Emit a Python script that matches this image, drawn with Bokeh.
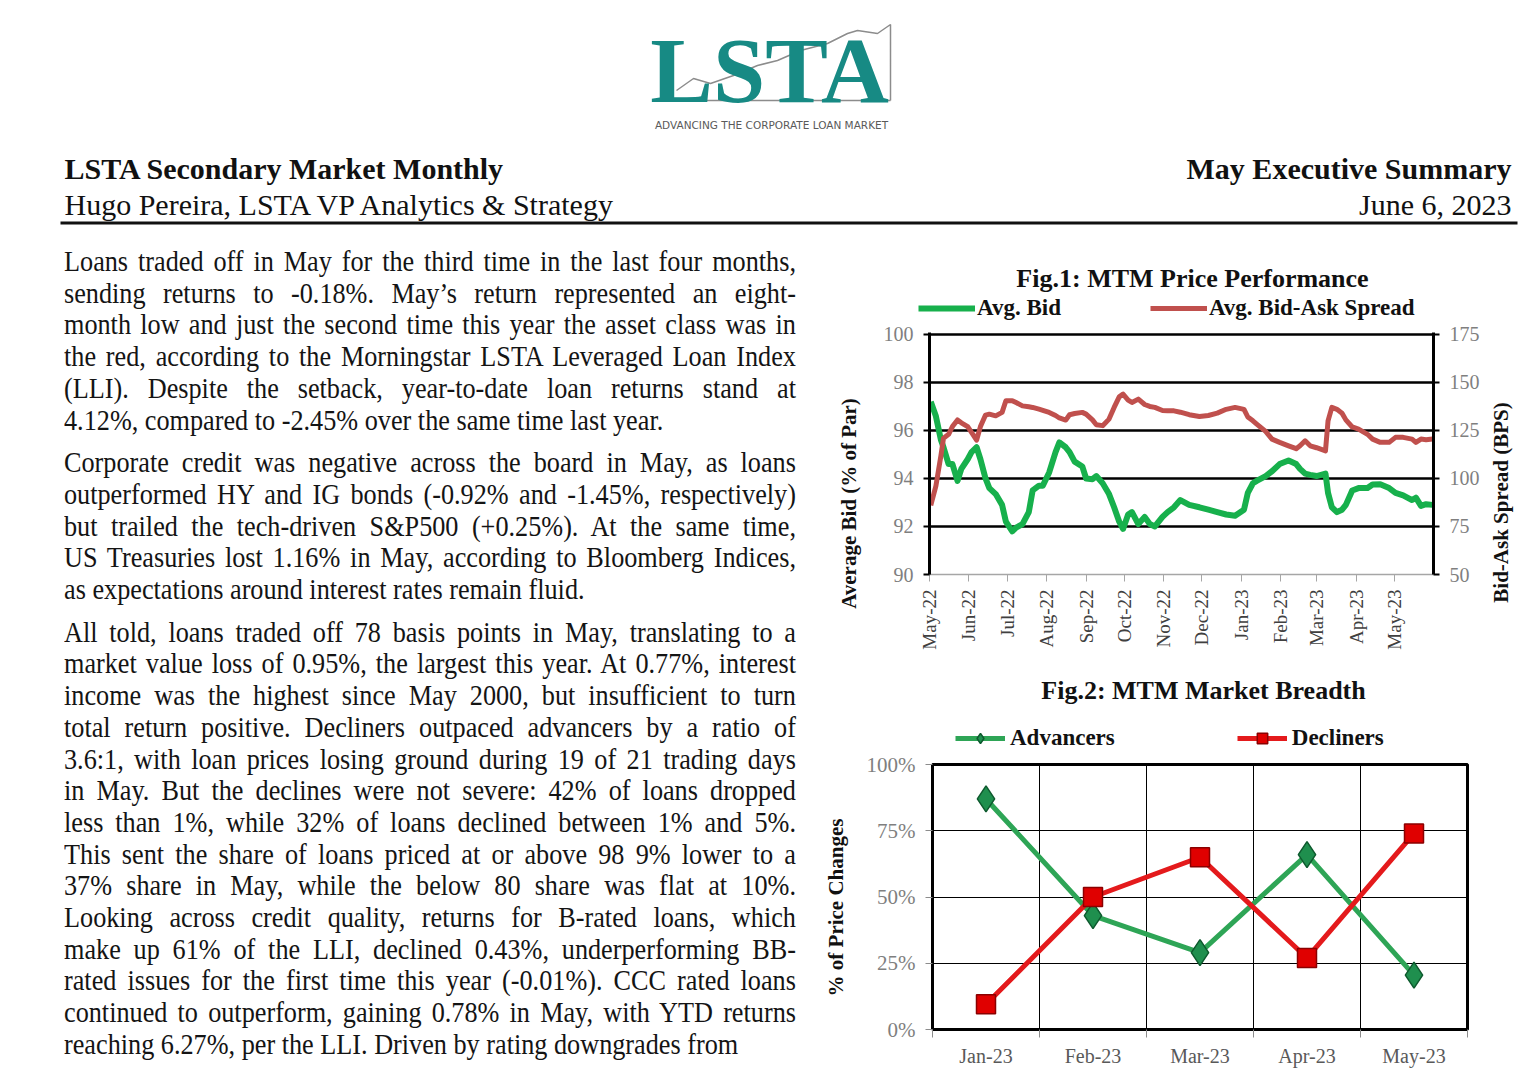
import math
from datetime import datetime
import pandas as pd
from bokeh.plotting import figure
from bokeh.models import (Range1d, LinearAxis, FixedTicker, Legend, LegendItem, Div,
                          DatetimeTickFormatter, MonthsTicker, PrintfTickFormatter, ColumnDataSource)
from bokeh.layouts import column, row
from bokeh.embed import file_html
from bokeh.resources import INLINE
from bokeh.core.properties import value
from html import escape

# ---------------- data ----------------
bid_dates = [
    "2022-05-02", "2022-05-06", "2022-05-10", "2022-05-12", "2022-05-16", "2022-05-19", "2022-05-23",
    "2022-05-26", "2022-05-31", "2022-06-03", "2022-06-07", "2022-06-10", "2022-06-14", "2022-06-17",
    "2022-06-22", "2022-06-27", "2022-06-30", "2022-07-05", "2022-07-08", "2022-07-13", "2022-07-18",
    "2022-07-21", "2022-07-26", "2022-07-29", "2022-08-03", "2022-08-08", "2022-08-11", "2022-08-16",
    "2022-08-19", "2022-08-23", "2022-08-29", "2022-09-01", "2022-09-06", "2022-09-09", "2022-09-14",
    "2022-09-19", "2022-09-23", "2022-09-27", "2022-09-30", "2022-10-04", "2022-10-07", "2022-10-12",
    "2022-10-17", "2022-10-21", "2022-10-25", "2022-10-31", "2022-11-04", "2022-11-09", "2022-11-14",
    "2022-11-21", "2022-11-29", "2022-12-06", "2022-12-13", "2022-12-20", "2022-12-27", "2023-01-03",
    "2023-01-06", "2023-01-10", "2023-01-13", "2023-01-20", "2023-01-25", "2023-01-31", "2023-02-07",
    "2023-02-13", "2023-02-16", "2023-02-20", "2023-02-24", "2023-03-01", "2023-03-08", "2023-03-10",
    "2023-03-13", "2023-03-17", "2023-03-21", "2023-03-24", "2023-03-29", "2023-04-03", "2023-04-10",
    "2023-04-14", "2023-04-20", "2023-04-27", "2023-05-02", "2023-05-08", "2023-05-15", "2023-05-18",
    "2023-05-22", "2023-05-26", "2023-05-31",
]
avg_bid = [
    97.2, 96.6, 95.6, 95.3, 94.6, 94.6, 93.9,
    94.4, 94.8, 95.1, 95.3, 94.8, 94.0, 93.6,
    93.35, 92.9, 92.2, 91.8, 91.95, 92.1, 92.6,
    93.5, 93.7, 93.7, 94.25, 95.1, 95.5, 95.3,
    95.1, 94.7, 94.5, 94.0, 93.97, 94.1, 93.8,
    93.35, 92.8, 92.2, 91.9, 92.5, 92.6, 92.1,
    92.4, 92.1, 92.0, 92.4, 92.6, 92.8, 93.1,
    92.9, 92.8, 92.7, 92.6, 92.5, 92.45, 92.7,
    93.4, 93.8, 93.9, 94.1, 94.3, 94.6, 94.75,
    94.6, 94.4, 94.2, 94.15, 94.1, 94.2, 93.4,
    92.8, 92.6, 92.7, 92.9, 93.5, 93.6, 93.6,
    93.75, 93.76, 93.6, 93.4, 93.3, 93.1, 93.2,
    92.86, 92.93, 92.9,
]
bid_ask_spread = [
    86, 96, 112, 121, 123, 127, 130.5,
    129, 127, 124, 120, 127, 133, 133.5,
    132.6, 134.4, 140.5, 140.5, 139.5, 137.8, 137.3,
    137, 136.1, 135.5, 134.4, 132.8, 131.5, 130.4,
    133.2, 133.8, 134.4, 133.5, 130.5, 128, 127.5,
    130.9, 137, 142.5, 143.9, 140.8, 139.6, 141.3,
    138.5, 137.5, 137, 135.4, 135.2, 135.2, 134.5,
    133.2, 132.3, 132.8, 134, 136, 137, 136,
    132, 130, 128.3, 124.5, 120.5, 118.8, 117,
    115.5, 117, 119.6, 117, 116, 114.4, 130,
    137, 136, 134, 130.5, 126.8, 125.7, 123,
    120.5, 118.8, 118.8, 121.4, 121.4, 120.5, 118.8,
    120.5, 120.2, 120.5,
]
bid_ticks = [90, 92, 94, 96, 98, 100]
spread_ticks = [50, 75, 100, 125, 150, 175]

breadth_months = ["Jan-23", "Feb-23", "Mar-23", "Apr-23", "May-23"]
advancers = [87, 43, 29, 66, 20.5]
decliners = [9.5, 50, 65, 27, 74]
breadth_ticks = [0, 25, 50, 75, 100]

logo_line_x = [676, 693, 710, 733, 757, 777, 800, 827, 847, 857, 877, 890, 890]
logo_line_y = [90, 78, 83, 75, 65, 60, 50, 43, 33, 30, 33, 24, 100]

para1 = [
    "Loans traded off in May for the third time in the last four months,",
    "sending returns to -0.18%. May\u2019s return represented an eight-",
    "month low and just the second time this year the asset class was in",
    "the red, according to the Morningstar LSTA Leveraged Loan Index",
    "(LLI). Despite the setback, year-to-date loan returns stand at",
    "4.12%, compared to -2.45% over the same time last year.",
]
para2 = [
    "Corporate credit was negative across the board in May, as loans",
    "outperformed HY and IG bonds (-0.92% and -1.45%, respectively)",
    "but trailed the tech-driven S&P500 (+0.25%). At the same time,",
    "US Treasuries lost 1.16% in May, according to Bloomberg Indices,",
    "as expectations around interest rates remain fluid.",
]
para3 = [
    "All told, loans traded off 78 basis points in May, translating to a",
    "market value loss of 0.95%, the largest this year. At 0.77%, interest",
    "income was the highest since May 2000, but insufficient to turn",
    "total return positive. Decliners outpaced advancers by a ratio of",
    "3.6:1, with loan prices losing ground during 19 of 21 trading days",
    "in May. But the declines were not severe: 42% of loans dropped",
    "less than 1%, while 32% of loans declined between 1% and 5%.",
    "This sent the share of loans priced at or above 98 9% lower to a",
    "37% share in May, while the below 80 share was flat at 10%.",
    "Looking across credit quality, returns for B-rated loans, which",
    "make up 61% of the LLI, declined 0.43%, underperforming BB-",
    "rated issues for the first time this year (-0.01%). CCC rated loans",
    "continued to outperform, gaining 0.78% in May, with YTD returns",
    "reaching 6.27%, per the LLI. Driven by rating downgrades from",
]

SERIF = "Liberation Serif"
NB = "\u00a0"

# styles
BID_STYLE = dict(line_color="#17b04c", line_width=6, line_join="round")
SPREAD_STYLE = dict(line_color="#c0504d", line_width=5, line_join="round")
ADV_LINE = dict(line_color="#2ea556", line_width=5)
ADV_MARK = dict(marker="diamond", size=26, fill_color="#1f8f4e", line_color="#0e5a2e", line_width=1.5)
DEC_LINE = dict(line_color="#e41a1c", line_width=5)
DEC_MARK = dict(marker="square", size=19, fill_color="#e00000", line_color="#8b0000", line_width=1.5)
AXIS_TITLE = dict(text_font=value(SERIF), text_font_style="bold", text_font_size="21px",
                  text_color="#111111", text_align="center", text_baseline="middle")


def blank_fig(width, height, x0, y0, flip=True):
    """Figure whose data coordinates are page pixels (y downward if flip)."""
    yr = Range1d(y0 + height, y0) if flip else Range1d(-(y0 + height), -y0)
    f = figure(width=width, height=height, x_range=Range1d(x0, x0 + width), y_range=yr,
               x_axis_type=None, y_axis_type=None, output_backend="svg", toolbar_location=None,
               min_border=0, outline_line_color=None)
    f.grid.visible = False
    f.frame_align = False
    return f


# ---------------- header ----------------
hdr = blank_fig(1536, 230, 0, 0)
hdr.line(logo_line_x, logo_line_y, line_color="#8c8c8c", line_width=1.5)
hdr.segment(x0=[675], y0=[100], x1=[890], y1=[100], line_color="#8c8c8c", line_width=1.5)
hdr.text(x=[769], y=[69], text=["LSTA"], text_font=value(SERIF), text_font_style="bold",
         text_font_size="94px", text_color="#178a84", text_align="center", text_baseline="middle")
hdr.text(x=[771], y=[124], text=["ADVANCING THE CORPORATE LOAN MARKET"], text_font=value("DejaVu Sans"),
         text_font_size="10.5px", text_color="#5a5a5a", text_align="center", text_baseline="middle")
hdr.text(x=[64], y=[168], text=["LSTA Secondary Market Monthly"], text_font=value(SERIF),
         text_font_style="bold", text_font_size="30px", text_color="#111111", text_baseline="middle")
hdr.text(x=[64], y=[204], text=["Hugo Pereira, LSTA VP Analytics & Strategy"], text_font=value(SERIF),
         text_font_size="30px", text_color="#111111", text_baseline="middle")
hdr.text(x=[1511], y=[168], text=["May Executive Summary"], text_font=value(SERIF),
         text_font_style="bold", text_font_size="30px", text_color="#111111", text_align="right",
         text_baseline="middle")
hdr.text(x=[1511], y=[204], text=["June 6, 2023"], text_font=value(SERIF),
         text_font_size="30px", text_color="#111111", text_align="right", text_baseline="middle")
hdr.segment(x0=[60], y0=[222.5], x1=[1517], y1=[222.5], line_color="#111111", line_width=3)

# ---------------- body text ----------------
def para_html(lines, gap):
    out = []
    for i, ln in enumerate(lines):
        last = "left" if i == len(lines) - 1 else "justify"
        out.append(f'<div style="text-align:justify;text-align-last:{last};">{escape(ln)}</div>')
    return f'<div style="margin-bottom:{gap}px">' + "".join(out) + "</div>"

body_html = (
    '<div style="width:820px;height:849px;overflow:hidden;position:relative;">'
    '<div style="position:absolute;left:64px;top:16px;width:795.6px;transform:scaleX(0.92);'
    'transform-origin:0 0;font-family:\'Liberation Serif\';font-size:28.5px;line-height:31.7px;color:#141414;">'
    + para_html(para1, 11) + para_html(para2, 11) + para_html(para3, 0) +
    "</div></div>"
)
body = Div(text=body_html, width=820, height=849, margin=0, styles={"overflow": "hidden"})

src1 = ColumnDataSource(dict(date=pd.to_datetime(bid_dates), bid=avg_bid, spread=bid_ask_spread))
centers = [i + 0.5 for i in range(len(breadth_months))]
bounds = list(range(len(breadth_months) + 1))
src2 = ColumnDataSource(dict(x=centers, adv=advancers, dec=decliners))

# ---------------- Fig.1 title + legend ----------------
h1 = blank_fig(716, 91, 820, 230)
h1.text(x=[1192], y=[278], text=["Fig.1: MTM Price Performance"], text_font=value(SERIF),
        text_font_style="bold", text_font_size="26px", text_color="#111111",
        text_align="center", text_baseline="middle")
# legend proxies (same series, lie outside this panel's visible range)
lg_bid = h1.line("date", "bid", source=src1, **BID_STYLE)
lg_spr = h1.line("date", "spread", source=src1, **SPREAD_STYLE)
h1.add_layout(Legend(items=[LegendItem(label="Avg. Bid", renderers=[lg_bid]),
                            LegendItem(label="Avg. Bid-Ask Spread", renderers=[lg_spr])],
                     orientation="horizontal", location=(98, 0), spacing=89, glyph_width=57,
                     glyph_height=24, label_standoff=2, padding=0, margin=0, border_line_color=None,
                     background_fill_alpha=0, label_text_font=SERIF, label_text_font_style="bold",
                     label_text_font_size="23px", label_text_color="#111111"), "center")

# ---------------- Fig.1 chart ----------------
p1 = figure(width=612, height=344, x_axis_type="datetime",
            x_range=Range1d(datetime(2022, 5, 1), datetime(2023, 5, 31, 20)),
            y_range=Range1d(bid_ticks[0], bid_ticks[-1] + 0.08),
            output_backend="svg", toolbar_location=None,
            min_border_left=59, min_border_right=48, min_border_top=11, min_border_bottom=91)
p1.frame_align = False
p1.outline_line_color = None
p1.xgrid.visible = False
p1.ygrid.ticker = FixedTicker(ticks=bid_ticks[1:])
p1.ygrid.grid_line_color = "black"
p1.ygrid.grid_line_width = 2.5
p1.extra_y_ranges = {"spread": Range1d(spread_ticks[0], spread_ticks[-1] + 1.0)}

p1.line("date", "bid", source=src1, **BID_STYLE)
p1.line("date", "spread", source=src1, y_range_name="spread", **SPREAD_STYLE)

yax = p1.yaxis[0]
yax.ticker = FixedTicker(ticks=bid_ticks)
rax = LinearAxis(y_range_name="spread", ticker=FixedTicker(ticks=spread_ticks))
p1.add_layout(rax, "right")
for ax in (yax, rax):
    ax.axis_line_color = "black"
    ax.axis_line_width = 3
    ax.major_tick_line_color = "black"
    ax.major_tick_line_width = 2
    ax.major_tick_out = 6
    ax.major_tick_in = 0
    ax.minor_tick_line_color = None
    ax.major_label_text_font = SERIF
    ax.major_label_text_font_size = "20px"
    ax.major_label_text_color = "#7f7f7f"
    ax.major_label_standoff = 10

xax = p1.xaxis[0]
xax.ticker = MonthsTicker(months=list(range(12)))
xax.formatter = DatetimeTickFormatter(months="%b-%y", days="%b-%y")
xax.major_label_orientation = math.pi / 2
xax.axis_line_color = "#a6a6a6"
xax.axis_line_width = 1.5
xax.major_tick_line_color = "#a6a6a6"
xax.major_tick_out = 7
xax.major_tick_in = 0
xax.minor_tick_line_color = None
xax.major_label_text_font = SERIF
xax.major_label_text_font_size = "19px"
xax.major_label_text_color = "#404040"
xax.major_label_standoff = 8

# axis titles of Fig.1 (bottom-to-top, as in the original)
llab = blank_fig(50, 344, 820, 321, flip=False)
llab.text(x=[848], y=[-503], text=["Average Bid (% of Par)"], angle=math.pi / 2, **AXIS_TITLE)
rlab = blank_fig(54, 344, 1482, 321, flip=False)
rlab.text(x=[1500], y=[-502], text=["Bid-Ask Spread (BPS)"], angle=math.pi / 2, **AXIS_TITLE)

# ---------------- Fig.2 title + legend ----------------
h2 = blank_fig(716, 86, 820, 665)
h2.text(x=[1203], y=[690], text=["Fig.2: MTM Market Breadth"], text_font=value(SERIF),
        text_font_style="bold", text_font_size="26px", text_color="#111111",
        text_align="center", text_baseline="middle")
lg_al = h2.line("x", "adv", source=src2, **ADV_LINE)
lg_am = h2.scatter("x", "adv", source=src2, **ADV_MARK)
lg_dl = h2.line("x", "dec", source=src2, **DEC_LINE)
lg_dm = h2.scatter("x", "dec", source=src2, **DEC_MARK)
h2.add_layout(Legend(items=[LegendItem(label="Advancers", renderers=[lg_al, lg_am]),
                            LegendItem(label="Decliners", renderers=[lg_dl, lg_dm])],
                     orientation="horizontal", location=(135, 0), spacing=122, glyph_width=50,
                     glyph_height=26, label_standoff=5, padding=0, margin=0, border_line_color=None,
                     background_fill_alpha=0, label_text_font=SERIF, label_text_font_style="bold",
                     label_text_font_size="23px", label_text_color="#111111"), "center")

# ---------------- Fig.2 chart ----------------
p2 = figure(width=716, height=328, x_range=Range1d(bounds[0], bounds[-1]),
            y_range=Range1d(breadth_ticks[0], breadth_ticks[-1]),
            output_backend="svg", toolbar_location=None,
            min_border_left=109, min_border_right=69, min_border_top=13, min_border_bottom=50)
p2.frame_align = False
p2.outline_line_color = "black"
p2.outline_line_width = 3
p2.ygrid.ticker = FixedTicker(ticks=breadth_ticks[1:-1])
p2.xgrid.ticker = FixedTicker(ticks=bounds[1:-1])
for gr in (p2.xgrid, p2.ygrid):
    gr.grid_line_color = "black"
    gr.grid_line_width = 1

p2.line("x", "adv", source=src2, **ADV_LINE)
p2.scatter("x", "adv", source=src2, **ADV_MARK)
p2.line("x", "dec", source=src2, **DEC_LINE)
p2.scatter("x", "dec", source=src2, **DEC_MARK)

x2 = p2.xaxis[0]
x2.ticker = FixedTicker(ticks=centers, minor_ticks=bounds)
x2.major_label_overrides = {c: m for c, m in zip(centers, breadth_months)}
x2.axis_line_color = None
x2.major_tick_line_color = None
x2.minor_tick_line_color = "#8c8c8c"
x2.minor_tick_out = 8
x2.minor_tick_in = 0
x2.major_label_standoff = 7
x2.major_label_text_font = SERIF
x2.major_label_text_font_size = "20px"
x2.major_label_text_color = "#595959"

y2 = p2.yaxis[0]
y2.ticker = FixedTicker(ticks=breadth_ticks)
y2.formatter = PrintfTickFormatter(format="%d%%")
y2.axis_line_color = None
y2.major_tick_line_color = "#8c8c8c"
y2.major_tick_out = 7
y2.major_tick_in = 0
y2.minor_tick_line_color = None
y2.major_label_standoff = 10
y2.major_label_text_font = SERIF
y2.major_label_text_font_size = "21px"
y2.major_label_text_color = "#7f7f7f"
y2.axis_label = "% of Price Changes" + NB * 4
y2.axis_label_text_font = SERIF
y2.axis_label_text_font_style = "bold"
y2.axis_label_text_font_size = "21px"
y2.axis_label_text_color = "#111111"
y2.axis_label_standoff = 16

layout = column(hdr, row(body, column(h1, row(llab, p1, rlab), h2, p2)))
open("out.html", "w").write(file_html(layout, INLINE))
